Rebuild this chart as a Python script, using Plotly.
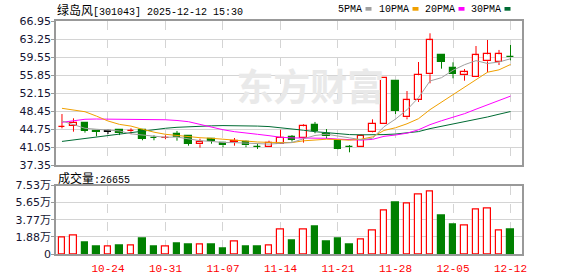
import plotly.graph_objects as go
from plotly.subplots import make_subplots

# ---------------- data ----------------
dates = ["10-20", "10-21", "10-22", "10-23", "10-24", "10-27", "10-28", "10-29", "10-30", "10-31",
         "11-03", "11-04", "11-05", "11-06", "11-07", "11-10", "11-11", "11-12", "11-13", "11-14",
         "11-17", "11-18", "11-19", "11-20", "11-21", "11-24", "11-25", "11-26", "11-27", "11-28",
         "12-01", "12-02", "12-03", "12-04", "12-05", "12-08", "12-09", "12-10", "12-11", "12-12"]

opens = [45.20, 45.43, 45.98, 44.30, 44.20, 44.45, 44.30, 44.50, 43.00, 42.95,
         43.66, 43.25, 41.60, 42.76, 41.80, 42.00, 42.08, 41.15, 41.00, 41.70,
         43.17, 42.95, 45.57, 43.66, 42.28, 41.10, 41.05, 44.07, 45.72, 54.55,
         47.16, 50.70, 55.99, 59.96, 57.23, 55.79, 55.38, 58.67, 58.46, 59.55]
highs = [47.83, 46.95, 46.00, 44.50, 44.60, 44.75, 44.90, 44.50, 43.45, 43.45,
         44.35, 43.50, 42.76, 42.76, 42.10, 42.90, 42.35, 41.80, 42.35, 44.60,
         43.50, 45.72, 46.20, 44.75, 42.28, 41.45, 43.66, 46.74, 55.17, 54.55,
         52.56, 58.52, 64.42, 59.96, 58.46, 57.08, 61.81, 63.05, 61.00, 62.02]
lows = [44.89, 44.20, 44.00, 43.25, 43.70, 43.50, 43.70, 42.43, 42.43, 42.65,
        42.35, 41.32, 40.90, 41.73, 41.00, 41.32, 41.00, 40.65, 41.00, 41.70,
        42.15, 41.95, 43.87, 42.76, 40.58, 39.96, 41.05, 44.00, 45.72, 47.83,
        46.74, 50.30, 54.15, 57.15, 55.17, 54.68, 55.38, 56.40, 57.90, 58.87]
closes = [45.25, 45.98, 44.40, 44.20, 44.20, 44.00, 44.40, 42.75, 42.90, 43.00,
          43.05, 41.73, 42.08, 42.28, 41.40, 42.28, 41.40, 41.05, 41.95, 42.95,
          42.50, 45.30, 44.40, 43.25, 40.70, 41.00, 43.38, 45.84, 55.17, 48.51,
          50.65, 55.79, 62.98, 58.58, 56.12, 56.40, 59.90, 60.10, 60.10, 59.45]

ma5 = [46.40, 45.60, 44.90, 44.70, 44.60, 44.35, 43.75, 43.50, 43.20, 43.05,
       43.10, 42.70, 42.35, 42.20, 41.98, 41.95, 41.82, 41.70, 41.65, 41.80,
       41.97, 42.75, 43.42, 43.68, 43.23, 42.93, 42.55, 42.83, 45.22, 46.78,
       48.71, 51.19, 54.62, 55.30, 56.82, 57.97, 58.80, 58.22, 58.52, 59.19]
ma10 = [49.00, 48.60, 48.30, 47.40, 46.40, 45.70, 45.35, 44.70, 44.10, 43.66,
        43.40, 43.17, 42.96, 42.84, 42.63, 42.49, 42.28, 42.08, 42.00, 41.95,
        41.96, 42.32, 42.55, 42.65, 42.58, 42.45, 42.65, 43.13, 44.45, 45.00,
        45.82, 46.87, 48.73, 50.26, 51.80, 53.34, 54.99, 56.42, 56.91, 58.01]
ma20 = [46.13, 46.50, 46.75, 46.80, 46.80, 46.80, 46.80, 46.75, 46.70, 46.65,
        46.50, 46.25, 45.70, 45.10, 44.60, 44.20, 43.86, 43.66, 43.38, 43.06,
        42.92, 42.89, 42.89, 42.84, 42.67, 42.52, 42.47, 42.62, 43.24, 43.51,
        43.89, 44.59, 45.64, 46.45, 47.19, 47.90, 48.82, 49.77, 50.68, 51.51]
ma30 = [42.20, 42.50, 42.85, 43.20, 43.55, 43.85, 44.15, 44.45, 44.70, 44.90,
        45.10, 45.25, 45.35, 45.40, 45.45, 45.45, 45.42, 45.35, 45.25, 45.05,
        44.80, 44.50, 44.20, 43.95, 43.75, 43.60, 43.55, 43.55, 43.60, 43.71,
        43.89, 44.22, 44.83, 45.31, 45.71, 46.12, 46.64, 47.22, 47.79, 48.34]

vol_wan = [1.80, 2.00, 1.30, 0.83, 0.80, 0.95, 0.90, 1.72, 0.83, 0.80,
           1.13, 1.05, 1.05, 1.05, 0.60, 1.38, 0.83, 0.83, 0.90, 2.70,
           1.50, 2.70, 3.05, 1.38, 1.72, 1.05, 1.58, 2.58, 4.80, 5.70,
           5.50, 6.50, 6.90, 4.28, 3.28, 3.13, 4.90, 5.00, 2.60, 2.67]

price_ticks = [37.35, 41.05, 44.75, 48.45, 52.15, 55.85, 59.55, 63.25, 66.95]
vol_ticks = [0, 1.88, 3.77, 5.65, 7.53]
vol_tick_text = ["0", "1.88万", "3.77万", "5.65万", "7.53万"]
date_tick_idx = [4, 9, 14, 19, 24, 29, 34, 39]
title_cjk = "绿岛风"
title_rest = "[301043] 2025-12-12 15:30"
vol_label_cjk = "成交量"
vol_label_rest = ":26655"
ma_names = ["5PMA", "10PMA", "20PMA", "30PMA"]
watermark = "东方财富"

# ---------------- styling ----------------
W, H = 578, 276
ML, MR, MT, MB = 56, 56, 21, 22
RED, GREEN, BLACK = "#ff0000", "#008000", "#000000"
MA_COLORS = ["#a0a0a0", "#f0a000", "#ff00ff", "#006b33"]
FRAME = "#999999"
GRID = "#d4d4d4"
AXFONT = "DejaVu Sans, Noto Sans CJK SC, sans-serif"
MONO = "Liberation Mono, DejaVu Sans Mono, monospace"
CJK = "Noto Sans CJK SC, sans-serif"

n = len(closes)
x = list(range(n))

def kind(o, c):
    if c > o:
        return "up"
    if c < o:
        return "down"
    return "flat"

kinds = [kind(o, c) for o, c in zip(opens, closes)]
edge = {"up": RED, "down": GREEN, "flat": BLACK}
fill = {"up": "white", "down": GREEN, "flat": BLACK}

fig = make_subplots(rows=2, cols=1, shared_xaxes=False, vertical_spacing=0.0)

# watermark (text trace drawn first)
fig.add_trace(go.Scatter(x=[21.6], y=[52.4], mode="text", text=[watermark],
                         textfont=dict(size=37, color="#e9e9e9", family=CJK, weight="bold"),
                         hoverinfo="skip", showlegend=False), row=1, col=1)

# wicks (upper and lower parts only)
for k in ["up", "down", "flat"]:
    wx, wy = [], []
    for i in range(n):
        if kinds[i] != k:
            continue
        top = max(opens[i], closes[i])
        bot = min(opens[i], closes[i])
        wx += [i, i, None, i, i, None]
        wy += [top, highs[i], None, lows[i], bot, None]
    fig.add_trace(go.Scatter(x=wx, y=wy, mode="lines", line=dict(color=edge[k], width=1),
                             hoverinfo="skip", showlegend=False), row=1, col=1)

# bodies
fig.add_trace(go.Bar(
    x=x,
    base=[min(o, c) for o, c in zip(opens, closes)],
    y=[max(abs(c - o), 0.05) for o, c in zip(opens, closes)],
    width=0.6,
    marker=dict(color=[fill[k] for k in kinds],
                line=dict(color=[edge[k] for k in kinds], width=1.2)),
    hoverinfo="skip", showlegend=False), row=1, col=1)

# moving averages
for vals, col, name in zip([ma30, ma20, ma10, ma5], MA_COLORS[::-1], ma_names[::-1]):
    fig.add_trace(go.Scatter(x=x, y=vals, mode="lines", line=dict(color=col, width=1),
                             name=name, hoverinfo="skip", showlegend=False), row=1, col=1)

# volume
vkind = ["down" if k == "down" else "up" for k in kinds]
fig.add_trace(go.Bar(
    x=x, y=vol_wan, width=0.58,
    marker=dict(color=[fill[k] for k in vkind],
                line=dict(color=[edge[k] for k in vkind], width=1.2)),
    hoverinfo="skip", showlegend=False), row=2, col=1)

plot_h = H - MT - MB
price_bottom = (H - MB - 165) / plot_h
vol_top = (H - MB - 185.5) / plot_h

xcommon = dict(range=[-0.52, 40.0], tickmode="array", tickvals=date_tick_idx,
               showgrid=True, gridcolor=GRID, griddash="dash", gridwidth=1,
               showline=True, linecolor=FRAME, linewidth=1.5, mirror=True,
               zeroline=False, ticks="", fixedrange=True, automargin=False)
ycommon = dict(tickmode="array", showgrid=True, gridcolor=GRID, showline=True,
               linecolor=FRAME, linewidth=1.5, mirror=True, ticks="outside", ticklen=3,
               tickcolor=FRAME, zeroline=False, automargin=False, ticklabelstandoff=-2,
               tickfont=dict(color="#141432", size=11, family=AXFONT))
fig.update_layout(
    xaxis=dict(**xcommon, showticklabels=False, anchor="y"),
    xaxis2=dict(**xcommon, ticktext=[dates[i] for i in date_tick_idx], showticklabels=True,
                tickfont=dict(color=RED, size=11, family=MONO), anchor="y2",
                ticklabelstandoff=3),
    yaxis=dict(**ycommon, domain=[price_bottom, 1.0], range=[price_ticks[0], price_ticks[-1]],
               tickvals=price_ticks, ticktext=[f"{v:.2f}" for v in price_ticks]),
    yaxis2=dict(**ycommon, domain=[0, vol_top], range=[0, vol_ticks[-1]],
                tickvals=vol_ticks, ticktext=vol_tick_text),
    width=W, height=H, margin=dict(l=ML, r=MR, t=MT, b=MB),
    paper_bgcolor="white", plot_bgcolor="white", bargap=0, showlegend=False,
)

def px(xp):
    return (xp - ML) / (W - ML - MR)

def py(yp):
    return (H - MB - yp) / plot_h

def mixed(cjk, rest):
    return (f'<span style="font-family:{CJK};font-size:12px">{cjk}</span>'
            f'<span style="font-family:{MONO};font-size:10px">{rest}</span>')

annos = [
    dict(text=mixed(title_cjk, title_rest), x=px(55), y=py(9), xanchor="left", yanchor="middle",
         font=dict(size=12, color="#000", family=CJK)),
    dict(text=mixed(vol_label_cjk, vol_label_rest), x=px(56), y=py(177), xanchor="left",
         yanchor="middle", font=dict(size=12, color="#000", family=CJK)),
]
legend_text_right = [363, 410, 456, 502]
shapes = []
for name, col, xr in zip(ma_names, MA_COLORS, legend_text_right):
    annos.append(dict(text=name, x=px(xr + 1), y=py(9), xanchor="right", yanchor="middle",
                      font=dict(size=10, color="#000", family=MONO)))
    shapes.append(dict(type="rect", xref="paper", yref="paper",
                       x0=px(xr + 2.5), x1=px(xr + 8.5), y0=py(10.7), y1=py(7),
                       fillcolor=col, line=dict(width=0)))
for a in annos:
    a.update(xref="paper", yref="paper", showarrow=False)
fig.update_layout(annotations=annos, shapes=shapes)

fig.write_html("out.html")
